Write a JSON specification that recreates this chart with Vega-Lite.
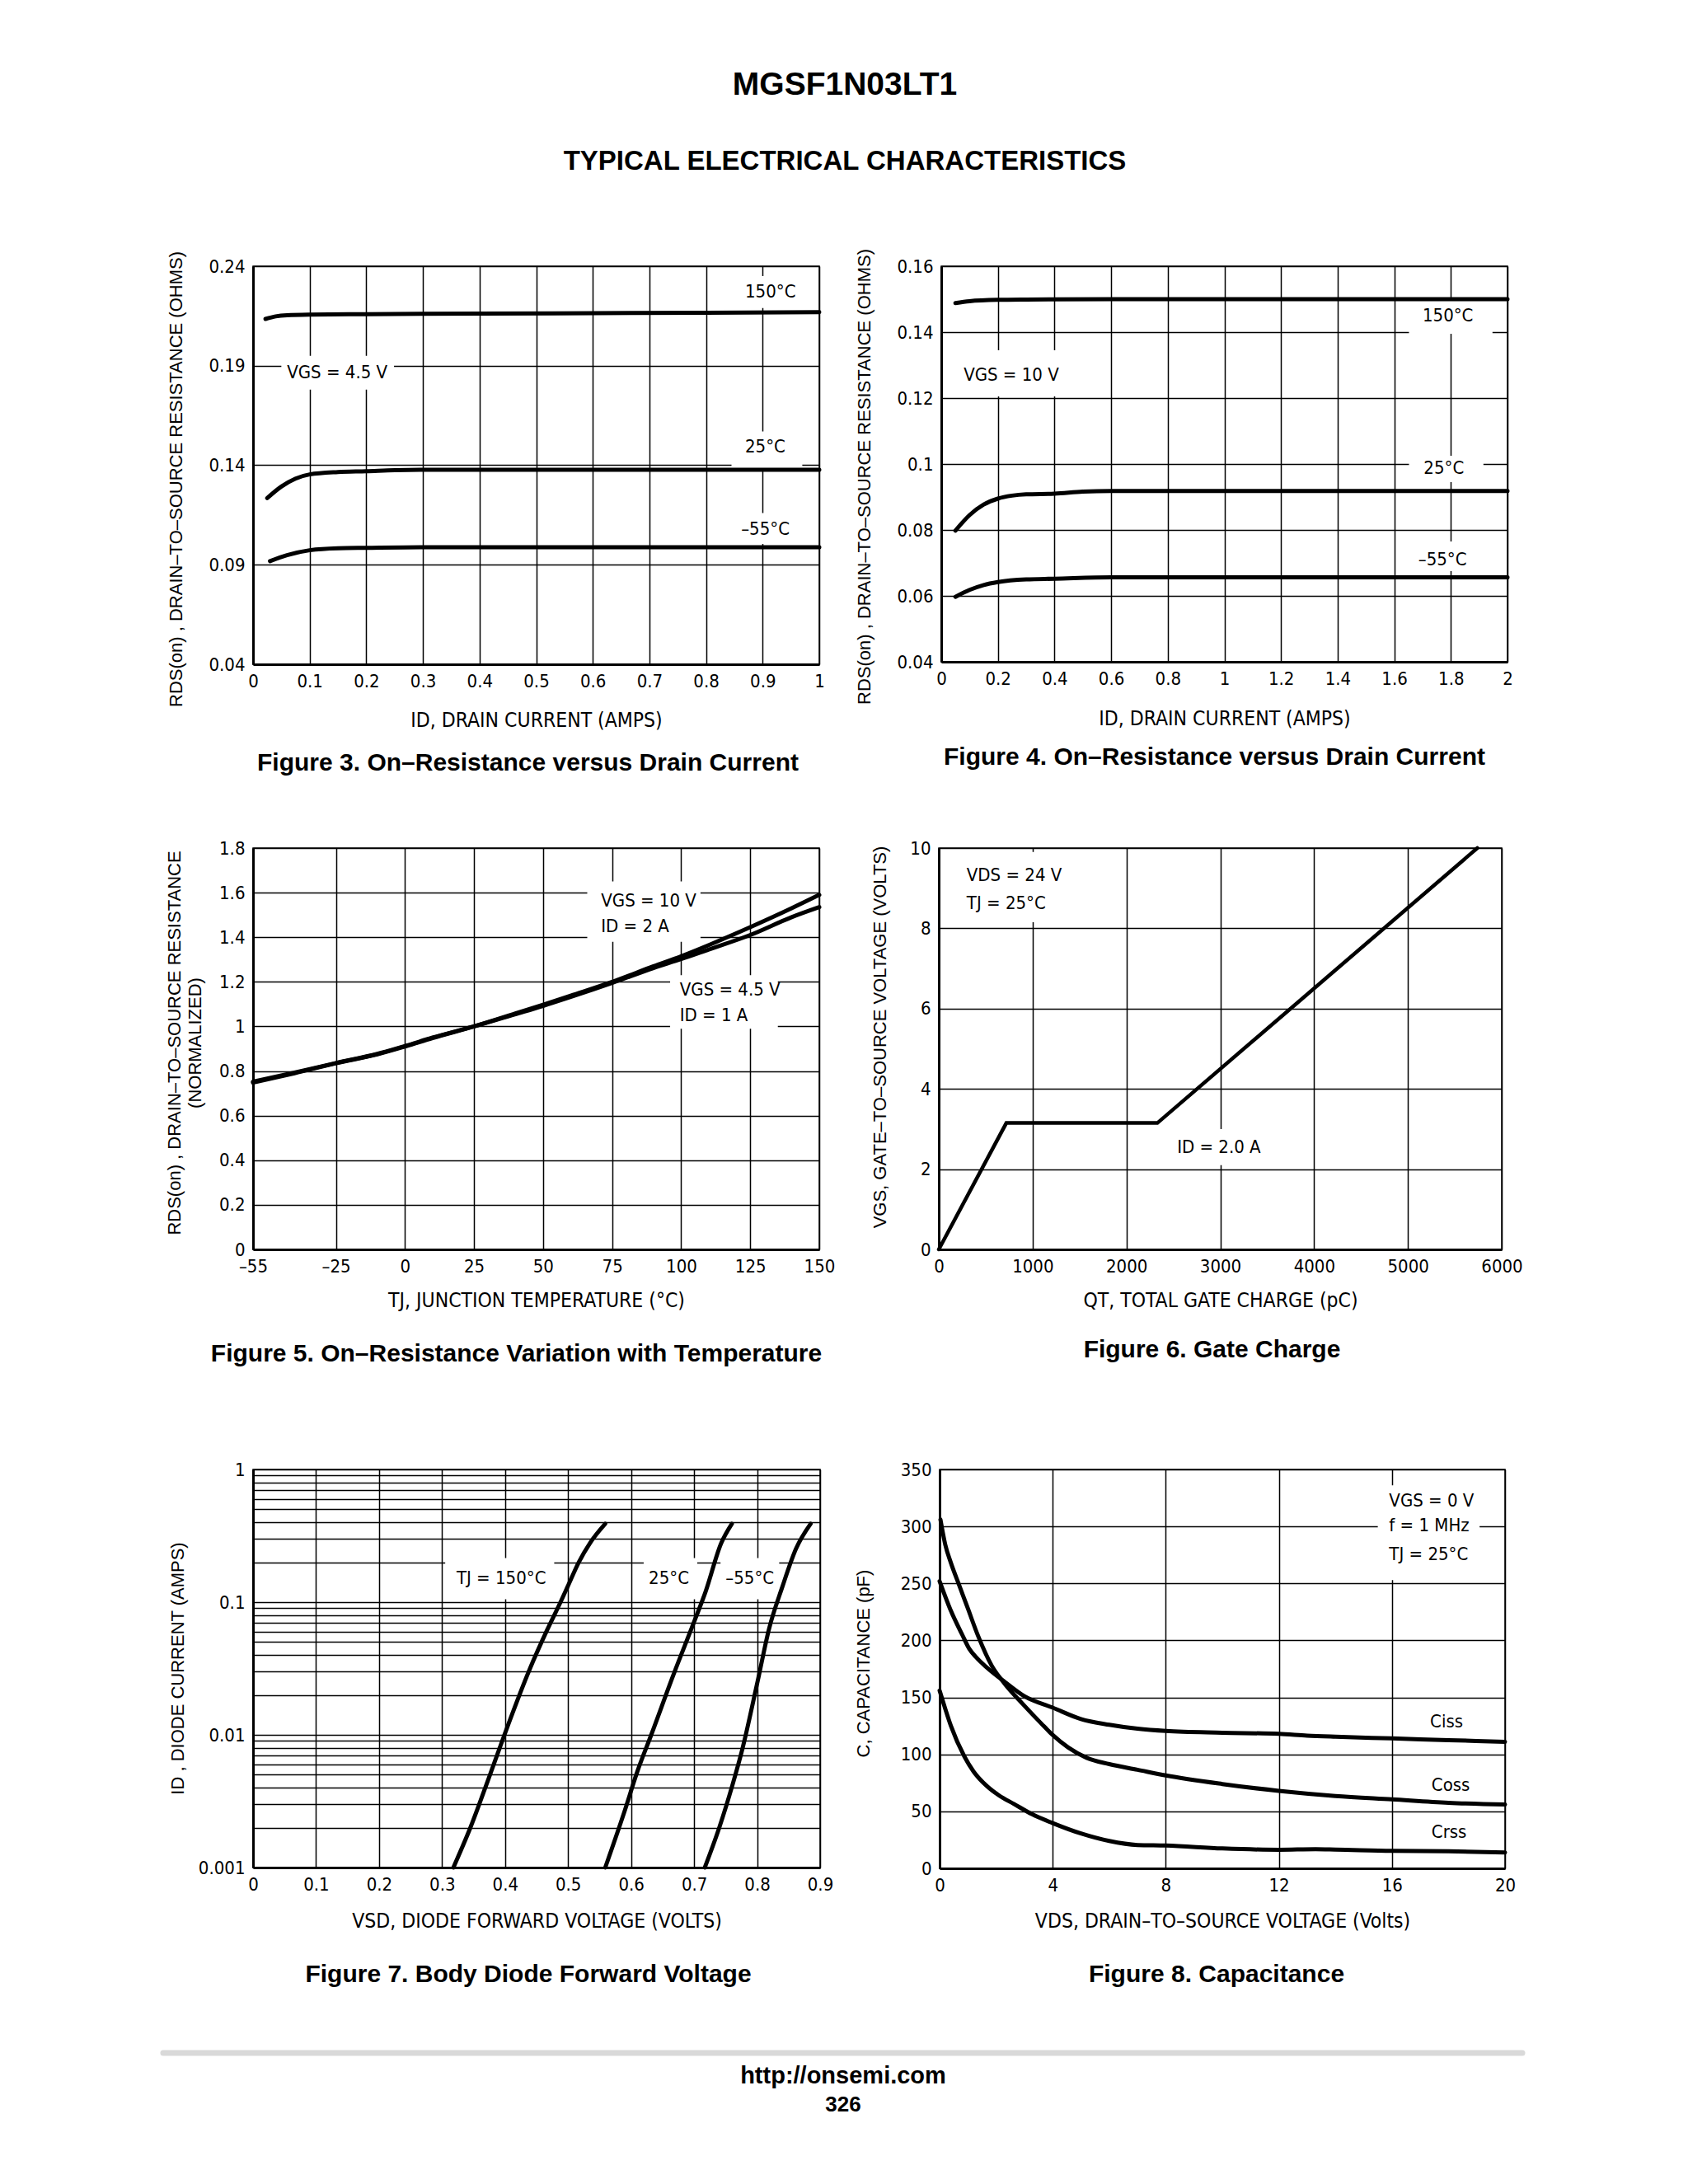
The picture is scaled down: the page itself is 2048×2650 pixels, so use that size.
{
  "$schema": "https://vega.github.io/schema/vega-lite/v6.json",
  "background": "white",
  "padding": {"left": 194, "top": 84, "right": 5, "bottom": 5},
  "config": {
    "font": "Liberation Sans",
    "view": {"stroke": "black", "strokeWidth": 1.5},
    "axis": {
      "grid": true,
      "gridColor": "black",
      "gridOpacity": 1,
      "gridWidth": 1.5,
      "ticks": false,
      "domain": true,
      "domainColor": "black",
      "domainWidth": 3,
      "labelFont": "Liberation Sans Narrow, Arial Narrow, DejaVu Sans Condensed, Liberation Sans",
      "labelFontSize": 22,
      "labelColor": "black",
      "labelPadding": 10,
      "labelFlush": false,
      "labelOverlap": false,
      "titleColor": "black",
      "titleFontWeight": "normal",
      "titleBaseline": "middle",
      "titleAlign": "center",
      "titleLineHeight": 25
    },
    "axisX": {"titleFont": "Liberation Sans Narrow, Arial Narrow, DejaVu Sans Condensed, Liberation Sans", "titleFontSize": 24.5},
    "axisY": {"titleFont": "Liberation Sans", "titleFontSize": 22},
    "title": {"font": "Liberation Sans", "fontWeight": "bold", "fontSize": 30, "color": "black", "subtitleColor": "black"},
    "text": {"font": "Liberation Sans Narrow, Arial Narrow, DejaVu Sans Condensed, Liberation Sans", "fontSize": 22, "color": "black"},
    "line": {"color": "black", "strokeWidth": 5, "strokeCap": "round"}
  },
  "datasets": {
    "d3": [
      {"s": "150", "x": 0.022, "y": 0.2135}, {"s": "150", "x": 0.04, "y": 0.2148}, {"s": "150", "x": 0.06, "y": 0.2154}, {"s": "150", "x": 0.1, "y": 0.2157}, {"s": "150", "x": 0.2, "y": 0.2159}, {"s": "150", "x": 0.4, "y": 0.2162}, {"s": "150", "x": 0.6, "y": 0.2164}, {"s": "150", "x": 0.8, "y": 0.2166}, {"s": "150", "x": 1.0, "y": 0.2169},
      {"s": "25", "x": 0.025, "y": 0.1235}, {"s": "25", "x": 0.05, "y": 0.1293}, {"s": "25", "x": 0.075, "y": 0.1333}, {"s": "25", "x": 0.1, "y": 0.1354}, {"s": "25", "x": 0.15, "y": 0.1366}, {"s": "25", "x": 0.2, "y": 0.137}, {"s": "25", "x": 0.25, "y": 0.1375}, {"s": "25", "x": 0.3, "y": 0.1377}, {"s": "25", "x": 0.6, "y": 0.1377}, {"s": "25", "x": 1.0, "y": 0.1377},
      {"s": "-55", "x": 0.03, "y": 0.0918}, {"s": "-55", "x": 0.06, "y": 0.0948}, {"s": "-55", "x": 0.1, "y": 0.0973}, {"s": "-55", "x": 0.15, "y": 0.0983}, {"s": "-55", "x": 0.2, "y": 0.0985}, {"s": "-55", "x": 0.3, "y": 0.0988}, {"s": "-55", "x": 0.6, "y": 0.0988}, {"s": "-55", "x": 1.0, "y": 0.0988}
    ],
    "t3": [
      {"x": 0.06, "y": 0.1865, "t": "VGS = 4.5 V"},
      {"x": 0.869, "y": 0.2271, "t": "150°C"},
      {"x": 0.869, "y": 0.1493, "t": "25°C"},
      {"x": 0.862, "y": 0.1079, "t": "–55°C"}
    ],
    "b3": [
      {"x": 0.05, "x2": 0.249, "y": 0.178, "y2": 0.195},
      {"x": 0.85, "x2": 0.97, "y": 0.219, "y2": 0.235},
      {"x": 0.845, "x2": 0.97, "y": 0.1385, "y2": 0.157},
      {"x": 0.85, "x2": 0.97, "y": 0.1005, "y2": 0.116}
    ],
    "d4": [
      {"s": "150", "x": 0.05, "y": 0.1488}, {"s": "150", "x": 0.1, "y": 0.1494}, {"s": "150", "x": 0.2, "y": 0.1498}, {"s": "150", "x": 0.3, "y": 0.1499}, {"s": "150", "x": 0.6, "y": 0.15}, {"s": "150", "x": 1.0, "y": 0.15}, {"s": "150", "x": 2.0, "y": 0.15},
      {"s": "25", "x": 0.05, "y": 0.0798}, {"s": "25", "x": 0.1, "y": 0.0845}, {"s": "25", "x": 0.15, "y": 0.0877}, {"s": "25", "x": 0.2, "y": 0.0895}, {"s": "25", "x": 0.25, "y": 0.0904}, {"s": "25", "x": 0.3, "y": 0.0908}, {"s": "25", "x": 0.4, "y": 0.091}, {"s": "25", "x": 0.5, "y": 0.0916}, {"s": "25", "x": 0.6, "y": 0.0918}, {"s": "25", "x": 1.0, "y": 0.0918}, {"s": "25", "x": 2.0, "y": 0.0918},
      {"s": "-55", "x": 0.05, "y": 0.0597}, {"s": "-55", "x": 0.1, "y": 0.0618}, {"s": "-55", "x": 0.15, "y": 0.0633}, {"s": "-55", "x": 0.2, "y": 0.0642}, {"s": "-55", "x": 0.3, "y": 0.065}, {"s": "-55", "x": 0.4, "y": 0.0652}, {"s": "-55", "x": 0.6, "y": 0.0656}, {"s": "-55", "x": 1.0, "y": 0.0656}, {"s": "-55", "x": 2.0, "y": 0.0656}
    ],
    "t4": [
      {"x": 0.079, "y": 0.127, "t": "VGS = 10 V"},
      {"x": 1.70, "y": 0.1449, "t": "150°C"},
      {"x": 1.704, "y": 0.0987, "t": "25°C"},
      {"x": 1.685, "y": 0.071, "t": "–55°C"}
    ],
    "b4": [
      {"x": 0.07, "x2": 0.43, "y": 0.1205, "y2": 0.1345},
      {"x": 1.652, "x2": 1.947, "y": 0.1395, "y2": 0.1495},
      {"x": 1.652, "x2": 1.915, "y": 0.0945, "y2": 0.1025},
      {"x": 1.652, "x2": 1.915, "y": 0.0675, "y2": 0.0765}
    ],
    "d5": [
      {"s": "10V", "x": -55, "y": 0.748}, {"s": "10V", "x": -40, "y": 0.79}, {"s": "10V", "x": -25, "y": 0.835}, {"s": "10V", "x": -10, "y": 0.875}, {"s": "10V", "x": 0, "y": 0.91}, {"s": "10V", "x": 10, "y": 0.948}, {"s": "10V", "x": 25, "y": 1.0}, {"s": "10V", "x": 40, "y": 1.058}, {"s": "10V", "x": 50, "y": 1.097}, {"s": "10V", "x": 60, "y": 1.138}, {"s": "10V", "x": 75, "y": 1.2}, {"s": "10V", "x": 90, "y": 1.27}, {"s": "10V", "x": 100, "y": 1.315}, {"s": "10V", "x": 110, "y": 1.365}, {"s": "10V", "x": 125, "y": 1.445}, {"s": "10V", "x": 140, "y": 1.53}, {"s": "10V", "x": 150, "y": 1.59},
      {"s": "4.5V", "x": -55, "y": 0.752}, {"s": "4.5V", "x": -40, "y": 0.793}, {"s": "4.5V", "x": -25, "y": 0.836}, {"s": "4.5V", "x": -10, "y": 0.877}, {"s": "4.5V", "x": 0, "y": 0.912}, {"s": "4.5V", "x": 10, "y": 0.95}, {"s": "4.5V", "x": 25, "y": 1.0}, {"s": "4.5V", "x": 40, "y": 1.055}, {"s": "4.5V", "x": 50, "y": 1.092}, {"s": "4.5V", "x": 60, "y": 1.132}, {"s": "4.5V", "x": 75, "y": 1.195}, {"s": "4.5V", "x": 90, "y": 1.262}, {"s": "4.5V", "x": 100, "y": 1.302}, {"s": "4.5V", "x": 110, "y": 1.345}, {"s": "4.5V", "x": 125, "y": 1.41}, {"s": "4.5V", "x": 140, "y": 1.49}, {"s": "4.5V", "x": 150, "y": 1.535}
    ],
    "t5": [
      {"x": 71, "y": 1.5625, "t": "VGS = 10 V"},
      {"x": 71, "y": 1.45, "t": "ID = 2 A"},
      {"x": 99.5, "y": 1.1625, "t": "VGS = 4.5 V"},
      {"x": 99.5, "y": 1.05, "t": "ID = 1 A"}
    ],
    "b5": [
      {"x": 66, "x2": 107, "y": 1.38, "y2": 1.65},
      {"x": 96, "x2": 135, "y": 0.99, "y2": 1.23}
    ],
    "d6": [
      {"s": "q", "x": 0, "y": 0}, {"s": "q", "x": 720, "y": 3.15}, {"s": "q", "x": 2330, "y": 3.15}, {"s": "q", "x": 5740, "y": 10}
    ],
    "t6": [
      {"x": 297, "y": 9.33, "t": "VDS = 24 V"},
      {"x": 297, "y": 8.63, "t": "TJ = 25°C"},
      {"x": 2540, "y": 2.54, "t": "ID = 2.0 A"}
    ],
    "b6": [
      {"x": 250, "x2": 1330, "y": 8.15, "y2": 9.9},
      {"x": 2500, "x2": 3400, "y": 2.1, "y2": 3.0}
    ],
    "d7": [
      {"s": "150", "x": 0.318, "y": 0.001}, {"s": "150", "x": 0.345, "y": 0.002}, {"s": "150", "x": 0.374, "y": 0.0047}, {"s": "150", "x": 0.399, "y": 0.01}, {"s": "150", "x": 0.44, "y": 0.032}, {"s": "150", "x": 0.467, "y": 0.062}, {"s": "150", "x": 0.488, "y": 0.1}, {"s": "150", "x": 0.499, "y": 0.13}, {"s": "150", "x": 0.517, "y": 0.2}, {"s": "150", "x": 0.535, "y": 0.28}, {"s": "150", "x": 0.559, "y": 0.39},
      {"s": "25", "x": 0.559, "y": 0.001}, {"s": "25", "x": 0.589, "y": 0.0026}, {"s": "25", "x": 0.61, "y": 0.0053}, {"s": "25", "x": 0.632, "y": 0.01}, {"s": "25", "x": 0.668, "y": 0.029}, {"s": "25", "x": 0.7, "y": 0.071}, {"s": "25", "x": 0.718, "y": 0.119}, {"s": "25", "x": 0.743, "y": 0.278}, {"s": "25", "x": 0.76, "y": 0.39},
      {"s": "-55", "x": 0.717, "y": 0.001}, {"s": "-55", "x": 0.74, "y": 0.002}, {"s": "-55", "x": 0.761, "y": 0.0042}, {"s": "-55", "x": 0.776, "y": 0.0076}, {"s": "-55", "x": 0.801, "y": 0.0255}, {"s": "-55", "x": 0.819, "y": 0.063}, {"s": "-55", "x": 0.84, "y": 0.13}, {"s": "-55", "x": 0.862, "y": 0.254}, {"s": "-55", "x": 0.885, "y": 0.39}
    ],
    "t7": [
      {"x": 0.323, "y": 0.151, "t": "TJ = 150°C"},
      {"x": 0.628, "y": 0.151, "t": "25°C"},
      {"x": 0.75, "y": 0.151, "t": "–55°C"}
    ],
    "b7": [
      {"x": 0.305, "x2": 0.478, "y": 0.105, "y2": 0.215},
      {"x": 0.62, "x2": 0.705, "y": 0.105, "y2": 0.215},
      {"x": 0.742, "x2": 0.835, "y": 0.105, "y2": 0.215}
    ],
    "d8": [
      {"s": "Ciss", "x": 0, "y": 252}, {"s": "Ciss", "x": 0.4, "y": 226}, {"s": "Ciss", "x": 0.8, "y": 205}, {"s": "Ciss", "x": 1.04, "y": 193}, {"s": "Ciss", "x": 1.3, "y": 185}, {"s": "Ciss", "x": 1.68, "y": 176}, {"s": "Ciss", "x": 2.31, "y": 163.5}, {"s": "Ciss", "x": 3, "y": 151}, {"s": "Ciss", "x": 4, "y": 141}, {"s": "Ciss", "x": 5, "y": 131}, {"s": "Ciss", "x": 6, "y": 126}, {"s": "Ciss", "x": 7, "y": 122.5}, {"s": "Ciss", "x": 8, "y": 120.5}, {"s": "Ciss", "x": 10, "y": 119}, {"s": "Ciss", "x": 12, "y": 118}, {"s": "Ciss", "x": 13, "y": 116.5}, {"s": "Ciss", "x": 14, "y": 115.5}, {"s": "Ciss", "x": 16, "y": 114}, {"s": "Ciss", "x": 18, "y": 112.5}, {"s": "Ciss", "x": 20, "y": 111},
      {"s": "Coss", "x": 0.03, "y": 306}, {"s": "Coss", "x": 0.2, "y": 284}, {"s": "Coss", "x": 0.4, "y": 268}, {"s": "Coss", "x": 0.7, "y": 248}, {"s": "Coss", "x": 1.0, "y": 228}, {"s": "Coss", "x": 1.36, "y": 204}, {"s": "Coss", "x": 1.84, "y": 178}, {"s": "Coss", "x": 2.3, "y": 162}, {"s": "Coss", "x": 2.95, "y": 144}, {"s": "Coss", "x": 3.6, "y": 127}, {"s": "Coss", "x": 4, "y": 117}, {"s": "Coss", "x": 4.55, "y": 106}, {"s": "Coss", "x": 5.2, "y": 97}, {"s": "Coss", "x": 6, "y": 91.5}, {"s": "Coss", "x": 7, "y": 86.5}, {"s": "Coss", "x": 8, "y": 81.5}, {"s": "Coss", "x": 10, "y": 74}, {"s": "Coss", "x": 12, "y": 68}, {"s": "Coss", "x": 14, "y": 63.5}, {"s": "Coss", "x": 16, "y": 60.5}, {"s": "Coss", "x": 18, "y": 57.5}, {"s": "Coss", "x": 20, "y": 56},
      {"s": "Crss", "x": 0, "y": 156}, {"s": "Crss", "x": 0.2, "y": 140}, {"s": "Crss", "x": 0.4, "y": 125}, {"s": "Crss", "x": 0.88, "y": 98}, {"s": "Crss", "x": 1.2, "y": 85}, {"s": "Crss", "x": 1.68, "y": 72}, {"s": "Crss", "x": 2.1, "y": 64}, {"s": "Crss", "x": 2.63, "y": 56.5}, {"s": "Crss", "x": 3.27, "y": 47.5}, {"s": "Crss", "x": 4, "y": 39.7}, {"s": "Crss", "x": 5, "y": 30.6}, {"s": "Crss", "x": 6, "y": 24}, {"s": "Crss", "x": 7, "y": 20.5}, {"s": "Crss", "x": 8, "y": 20}, {"s": "Crss", "x": 10, "y": 17.5}, {"s": "Crss", "x": 12, "y": 16.3}, {"s": "Crss", "x": 13.3, "y": 16.8}, {"s": "Crss", "x": 14, "y": 16.5}, {"s": "Crss", "x": 16, "y": 15.3}, {"s": "Crss", "x": 18, "y": 15}, {"s": "Crss", "x": 20, "y": 14}
    ],
    "t8": [
      {"x": 15.9, "y": 322.8, "t": "VGS = 0 V"},
      {"x": 15.9, "y": 300.5, "t": "f = 1 MHz"},
      {"x": 15.9, "y": 275.8, "t": "TJ = 25°C"},
      {"x": 17.35, "y": 128.6, "t": "Ciss"},
      {"x": 17.4, "y": 73, "t": "Coss"},
      {"x": 17.4, "y": 32, "t": "Crss"}
    ],
    "b8": [
      {"x": 15.5, "x2": 19.1, "y": 253, "y2": 336}
    ]
  },
  "spacing": 75,
  "vconcat": [
    {
      "width": 1540, "height": 1,
      "view": {"stroke": null},
      "title": {
        "text": "MGSF1N03LT1",
        "subtitle": "TYPICAL ELECTRICAL CHARACTERISTICS",
        "anchor": "middle",
        "orient": "top",
        "dx": -52,
        "font": "Liberation Sans",
        "fontSize": 39,
        "fontWeight": "bold",
        "subtitleFont": "Liberation Sans",
        "subtitleFontSize": 33,
        "subtitleFontWeight": "bold",
        "subtitlePadding": 57,
        "offset": 11
      },
      "data": {"values": []},
      "mark": {"type": "text"},
      "encoding": {}
    },
    {
      "spacing": 112,
      "vconcat": [
        {
          "spacing": 75,
          "vconcat": [
            {
              "spacing": 31,
              "hconcat": [
                {
                  "width": 687, "height": 483,
                  "title": {"text": "Figure 3. On–Resistance versus Drain Current", "orient": "bottom", "anchor": "middle", "offset": 25, "dx": -10},
                  "encoding": {
                    "x": {"field": "x", "type": "quantitative", "scale": {"domain": [0, 1], "nice": false, "zero": false},
                      "axis": {"title": "ID, DRAIN CURRENT (AMPS)", "values": [0, 0.1, 0.2, 0.3, 0.4, 0.5, 0.6, 0.7, 0.8, 0.9, 1], "format": "~g", "titleY": 68}},
                    "y": {"field": "y", "type": "quantitative", "scale": {"domain": [0.04, 0.24], "nice": false, "zero": false},
                      "axis": {"title": "RDS(on) , DRAIN–TO–SOURCE RESISTANCE (OHMS)", "values": [0.04, 0.09, 0.14, 0.19, 0.24], "format": "~g", "titleX": -94, "titleY": 258}}
                  },
                  "layer": [
                    {"data": {"name": "b3"}, "mark": {"type": "rect", "color": "white"}, "encoding": {"x2": {"field": "x2"}, "y2": {"field": "y2"}}},
                    {"data": {"name": "d3"}, "mark": {"type": "line", "interpolate": "monotone"}, "encoding": {"detail": {"field": "s"}}},
                    {"data": {"name": "t3"}, "mark": {"type": "text", "align": "left", "baseline": "middle"}, "encoding": {"text": {"field": "t"}}}
                  ]
                },
                {
                  "width": 687, "height": 480,
                  "title": {"text": "Figure 4. On–Resistance versus Drain Current", "orient": "bottom", "anchor": "middle", "offset": 20, "dx": -12},
                  "encoding": {
                    "x": {"field": "x", "type": "quantitative", "scale": {"domain": [0, 2], "nice": false, "zero": false},
                      "axis": {"title": "ID, DRAIN CURRENT (AMPS)", "values": [0, 0.2, 0.4, 0.6, 0.8, 1, 1.2, 1.4, 1.6, 1.8, 2], "format": "~g", "titleY": 69}},
                    "y": {"field": "y", "type": "quantitative", "scale": {"domain": [0.04, 0.16], "nice": false, "zero": false},
                      "axis": {"title": "RDS(on) , DRAIN–TO–SOURCE RESISTANCE (OHMS)", "values": [0.04, 0.06, 0.08, 0.1, 0.12, 0.14, 0.16], "format": "~g", "titleX": -94, "titleY": 255}}
                  },
                  "layer": [
                    {"data": {"name": "b4"}, "mark": {"type": "rect", "color": "white"}, "encoding": {"x2": {"field": "x2"}, "y2": {"field": "y2"}}},
                    {"data": {"name": "d4"}, "mark": {"type": "line", "interpolate": "monotone"}, "encoding": {"detail": {"field": "s"}}},
                    {"data": {"name": "t4"}, "mark": {"type": "text", "align": "left", "baseline": "middle"}, "encoding": {"text": {"field": "t"}}}
                  ]
                }
              ]
            },
            {
              "spacing": 41,
              "hconcat": [
                {
                  "width": 687, "height": 487,
                  "title": {"text": "Figure 5. On–Resistance Variation with Temperature", "orient": "bottom", "anchor": "middle", "offset": 38, "dx": -24},
                  "encoding": {
                    "x": {"field": "x", "type": "quantitative", "scale": {"domain": [-55, 150], "nice": false, "zero": false},
                      "axis": {"title": "TJ, JUNCTION TEMPERATURE (°C)", "values": [-55, -25, 0, 25, 50, 75, 100, 125, 150], "labelExpr": "datum.value < 0 ? '–' + (-datum.value) : datum.label", "titleY": 62}},
                    "y": {"field": "y", "type": "quantitative", "scale": {"domain": [0, 1.8], "nice": false, "zero": false},
                      "axis": {"title": ["RDS(on) , DRAIN–TO–SOURCE RESISTANCE", "(NORMALIZED)"], "values": [0, 0.2, 0.4, 0.6, 0.8, 1, 1.2, 1.4, 1.6, 1.8], "format": "~g", "titleX": -96, "titleY": 236}}
                  },
                  "layer": [
                    {"data": {"name": "b5"}, "mark": {"type": "rect", "color": "white"}, "encoding": {"x2": {"field": "x2"}, "y2": {"field": "y2"}}},
                    {"data": {"name": "d5"}, "mark": {"type": "line", "interpolate": "monotone"}, "encoding": {"detail": {"field": "s"}}},
                    {"data": {"name": "t5"}, "mark": {"type": "text", "align": "left", "baseline": "middle"}, "encoding": {"text": {"field": "t"}}}
                  ]
                },
                {
                  "width": 683, "height": 487,
                  "title": {"text": "Figure 6. Gate Charge", "orient": "bottom", "anchor": "middle", "offset": 33, "dx": -10},
                  "encoding": {
                    "x": {"field": "x", "type": "quantitative", "scale": {"domain": [0, 6000], "nice": false, "zero": false},
                      "axis": {"title": "QT, TOTAL GATE CHARGE (pC)", "values": [0, 1000, 2000, 3000, 4000, 5000, 6000], "format": "d", "titleY": 62}},
                    "y": {"field": "y", "type": "quantitative", "scale": {"domain": [0, 10], "nice": false, "zero": false},
                      "axis": {"title": "VGS, GATE–TO–SOURCE VOLTAGE (VOLTS)", "values": [0, 2, 4, 6, 8, 10], "format": "d", "titleX": -72, "titleY": 229}}
                  },
                  "layer": [
                    {"data": {"name": "b6"}, "mark": {"type": "rect", "color": "white"}, "encoding": {"x2": {"field": "x2"}, "y2": {"field": "y2"}}},
                    {"data": {"name": "d6"}, "mark": {"type": "line", "interpolate": "linear", "strokeWidth": 4.5}, "encoding": {"detail": {"field": "s"}}},
                    {"data": {"name": "t6"}, "mark": {"type": "text", "align": "left", "baseline": "middle"}, "encoding": {"text": {"field": "t"}}}
                  ]
                }
              ]
            }
          ]
        },
        {
          "spacing": 23,
          "hconcat": [
            {
              "width": 688, "height": 483,
              "title": {"text": "Figure 7. Body Diode Forward Voltage", "orient": "bottom", "anchor": "middle", "offset": 38, "dx": -10},
              "encoding": {
                "x": {"field": "x", "type": "quantitative", "scale": {"domain": [0, 0.9], "nice": false, "zero": false},
                  "axis": {"title": "VSD, DIODE FORWARD VOLTAGE (VOLTS)", "values": [0, 0.1, 0.2, 0.3, 0.4, 0.5, 0.6, 0.7, 0.8, 0.9], "format": "~g", "titleY": 65}},
                "y": {"field": "y", "type": "quantitative", "scale": {"type": "log", "domain": [0.001, 1], "nice": false, "zero": false},
                  "axis": {"title": "ID , DIODE CURRENT (AMPS)", "values": [0.001, 0.002, 0.003, 0.004, 0.005, 0.006, 0.007, 0.008, 0.009, 0.01, 0.02, 0.03, 0.04, 0.05, 0.06, 0.07, 0.08, 0.09, 0.1, 0.2, 0.3, 0.4, 0.5, 0.6, 0.7, 0.8, 0.9, 1],
                    "labelExpr": "datum.value == 1 ? '1' : datum.value == 0.1 ? '0.1' : datum.value == 0.01 ? '0.01' : datum.value == 0.001 ? '0.001' : ''", "titleX": -92, "titleY": 241}}
              },
              "layer": [
                {"data": {"name": "b7"}, "mark": {"type": "rect", "color": "white"}, "encoding": {"x2": {"field": "x2"}, "y2": {"field": "y2"}}},
                {"data": {"name": "d7"}, "mark": {"type": "line", "interpolate": "monotone"}, "encoding": {"detail": {"field": "s"}}},
                {"data": {"name": "t7"}, "mark": {"type": "text", "align": "left", "baseline": "middle"}, "encoding": {"text": {"field": "t"}}}
              ]
            },
            {
              "width": 686, "height": 484,
              "title": {"text": "Figure 8. Capacitance", "orient": "bottom", "anchor": "middle", "offset": 38, "dx": -7},
              "encoding": {
                "x": {"field": "x", "type": "quantitative", "scale": {"domain": [0, 20], "nice": false, "zero": false},
                  "axis": {"title": "VDS, DRAIN–TO–SOURCE VOLTAGE (Volts)", "values": [0, 4, 8, 12, 16, 20], "format": "d", "titleY": 64}},
                "y": {"field": "y", "type": "quantitative", "scale": {"domain": [0, 350], "nice": false, "zero": false},
                  "axis": {"title": "C, CAPACITANCE (pF)", "values": [0, 50, 100, 150, 200, 250, 300, 350], "format": "d", "titleX": -93, "titleY": 235}}
              },
              "layer": [
                {"data": {"name": "b8"}, "mark": {"type": "rect", "color": "white"}, "encoding": {"x2": {"field": "x2"}, "y2": {"field": "y2"}}},
                {"data": {"name": "d8"}, "mark": {"type": "line", "interpolate": "monotone"}, "encoding": {"detail": {"field": "s"}}},
                {"data": {"name": "t8"}, "mark": {"type": "text", "align": "left", "baseline": "middle"}, "encoding": {"text": {"field": "t"}}}
              ]
            }
          ]
        }
      ]
    },
    {
      "width": 1540, "height": 8,
      "view": {"stroke": null},
      "title": {"text": "http://onsemi.com", "subtitle": "326", "orient": "bottom", "anchor": "middle", "dx": -54, "fontSize": 29, "subtitleFont": "Liberation Sans", "subtitleFontSize": 26, "subtitleFontWeight": "bold", "offset": 10, "subtitlePadding": 7},
      "data": {"values": [{"a": -0.0708, "b": 1, "c": 0.5}]},
      "mark": {"type": "rule", "color": "#d9d9d9", "strokeWidth": 7, "strokeCap": "round"},
      "encoding": {
        "x": {"field": "a", "type": "quantitative", "scale": {"domain": [0, 1], "nice": false, "zero": false}, "axis": null},
        "x2": {"field": "b"},
        "y": {"field": "c", "type": "quantitative", "scale": {"domain": [0, 1]}, "axis": null}
      }
    }
  ]
}
